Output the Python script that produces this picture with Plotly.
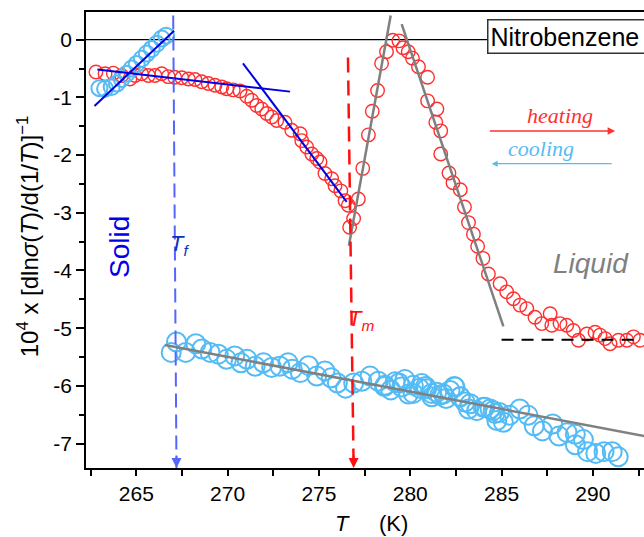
import plotly.graph_objects as go

# ---------------- data ----------------
heat_T = [262.79, 263.29, 263.74, 264.20, 264.65, 264.93, 265.29, 265.66, 266.02, 266.39,
          266.75, 267.10, 267.49, 267.85, 268.21, 268.58, 268.94, 269.31, 269.68, 269.95,
          270.31, 270.68, 271.05, 271.32, 271.59, 271.87, 272.14, 272.42, 272.69, 273.14,
          273.51, 273.97, 274.06, 274.33, 274.61, 274.88, 275.06, 275.33, 275.70, 275.88,
          276.20, 276.43, 276.61, 276.68, 276.90, 277.16, 277.40, 277.71, 277.92, 278.21,
          278.43, 278.70, 279.04, 279.38, 279.60, 279.89, 280.12, 280.45, 280.95, 280.95,
          281.46, 281.40, 281.67, 281.67, 282.12, 282.34, 282.74, 282.97, 283.19, 283.46,
          283.69, 283.98, 284.28, 284.92, 285.28, 285.65, 286.01, 286.38, 286.83, 287.20,
          287.66, 287.75, 288.20, 288.57, 288.93, 289.21, 289.67, 290.12, 290.39, 290.67,
          290.94, 291.40, 291.86, 292.22, 292.58]
heat_y = [-0.56, -0.59, -0.58, -0.62, -0.68, -0.62, -0.59, -0.62, -0.62, -0.59,
          -0.64, -0.65, -0.66, -0.68, -0.69, -0.73, -0.76, -0.79, -0.82, -0.85,
          -0.87, -0.89, -0.98, -1.05, -1.14, -1.20, -1.28, -1.34, -1.40, -1.43,
          -1.57, -1.63, -1.75, -1.86, -1.98, -2.06, -2.12, -2.32, -2.41, -2.53,
          -2.62, -2.79, -2.87, -3.25, -3.10, -2.76, -2.23, -1.65, -1.24, -0.88,
          -0.41, -0.21, -0.01, -0.02, -0.14, -0.21, -0.32, -0.47, -0.65, -1.06,
          -1.20, -1.43, -1.58, -1.98, -2.31, -2.48, -2.60, -2.90, -3.17, -3.37,
          -3.58, -3.79, -4.06, -4.23, -4.37, -4.49, -4.60, -4.66, -4.81, -4.92,
          -4.75, -4.95, -4.92, -4.95, -5.04, -5.21, -5.10, -5.07, -5.12, -5.18,
          -5.27, -5.21, -5.21, -5.15, -5.21]

cool_solid_T = [262.98, 263.29, 263.65, 263.93, 264.20, 264.47, 264.75, 265.02, 265.30,
                265.57, 265.84, 266.12, 266.39, 266.63]
cool_solid_y = [-0.84, -0.85, -0.82, -0.76, -0.68, -0.59, -0.50, -0.42, -0.33,
                -0.24, -0.16, -0.07, 0.02, 0.07]

cool_liq_T = [266.91, 267.20, 267.70, 268.26, 268.59, 269.04, 269.49, 269.94, 270.39, 270.73,
              271.06, 271.51, 271.96, 272.41, 272.86, 273.31, 273.54, 273.98, 274.43, 274.88,
              275.33, 275.67, 276.01, 276.46, 276.90, 277.35, 277.80, 278.25, 278.59, 278.93,
              279.38, 279.71, 280.16, 280.50, 280.84, 281.17, 281.62, 281.96, 282.41, 282.74,
              283.19, 283.64, 284.09, 284.54, 284.88, 285.10, 285.44, 286.00, 286.45, 286.79,
              287.24, 287.80, 288.14, 288.59, 289.04, 289.04, 289.48, 289.71, 290.16, 290.61,
              291.06, 291.39,
              278.62, 279.17, 279.53, 279.90, 280.17, 280.63, 280.90, 281.18, 281.45, 281.81,
              282.18, 282.45, 282.73, 283.00, 283.28, 284.00, 284.37, 284.64, 284.74]
cool_liq_y = [-5.42, -5.24, -5.42, -5.27, -5.36, -5.42, -5.45, -5.54, -5.48, -5.60,
              -5.54, -5.66, -5.60, -5.68, -5.66, -5.60, -5.71, -5.77, -5.65, -5.83,
              -5.74, -5.86, -5.95, -6.04, -5.95, -5.92, -5.83, -5.92, -6.01, -6.07,
              -5.95, -5.89, -6.13, -6.04, -6.01, -6.13, -6.16, -6.22, -6.01, -6.19,
              -6.40, -6.43, -6.37, -6.43, -6.46, -6.63, -6.51, -6.40, -6.51, -6.69,
              -6.78, -6.66, -6.87, -6.81, -6.84, -7.02, -6.93, -7.14, -7.17, -7.14,
              -7.14, -7.23,
              -5.99, -5.93, -6.02, -6.14, -5.99, -5.96, -6.05, -6.19, -6.11, -6.14,
              -6.08, -6.02, -6.19, -6.28, -6.31, -6.37, -6.40, -6.48, -6.60]

# fitted lines (end points, data units)
blue_fit1_T, blue_fit1_y = [262.71, 267.07], [-1.15, 0.154]
blue_fit2_T, blue_fit2_y = [262.87, 273.42], [-0.516, -0.90]
blue_fit3_T, blue_fit3_y = [270.84, 276.52], [-0.409, -2.81]
gray_fit1_T, gray_fit1_y = [276.64, 278.93], [-3.57, 0.42]
gray_fit2_T, gray_fit2_y = [279.53, 285.10], [0.27, -4.97]
gray_fit3_T, gray_fit3_y = [266.57, 292.81], [-5.29, -6.87]
liq_base_T, liq_base_y = [285.0, 292.3], [-5.2, -5.2]

# transition markers
Tf_T, Tf_y = [267.02, 267.20], [0.42, -7.423]
Tm_T, Tm_y = [276.59, 276.90], [-0.31, -7.423]

x_range = [262.245, 292.8]
y_range = [-7.423, 0.48]
x_ticks = [265, 270, 275, 280, 285, 290]
y_ticks = [0, -1, -2, -3, -4, -5, -6, -7]
y_ticktext = ["0", "-1", "-2", "-3", "-4", "-5", "-6", "-7"]

RED = "#FF3030"
CYAN = "#55BBF5"
BLUE = "#0000E6"
GRAY = "#808080"
FONT = "Liberation Sans, Arial, sans-serif"

fig = go.Figure()

def line(xs, ys, color, width, dash=None):
    fig.add_trace(go.Scatter(x=xs, y=ys, mode="lines",
                             line=dict(color=color, width=width, dash=dash),
                             hoverinfo="skip"))

# zero line
fig.add_shape(type="line", xref="paper", yref="y", x0=0, x1=1, y0=0, y1=0,
              line=dict(color="black", width=1.3), layer="below")

# data
fig.add_trace(go.Scatter(x=cool_liq_T, y=cool_liq_y, mode="markers",
                         marker=dict(symbol="circle-open", size=19, color=CYAN,
                                     line=dict(width=2))))
fig.add_trace(go.Scatter(x=heat_T, y=heat_y, mode="markers",
                         marker=dict(symbol="circle-open", size=13.5, color=RED,
                                     line=dict(width=1.4))))
fig.add_trace(go.Scatter(x=cool_solid_T, y=cool_solid_y, mode="markers",
                         marker=dict(symbol="circle-open", size=16, color=CYAN,
                                     line=dict(width=2))))

# fits
line(blue_fit1_T, blue_fit1_y, BLUE, 2)
line(blue_fit2_T, blue_fit2_y, BLUE, 2)
line(blue_fit3_T, blue_fit3_y, BLUE, 2)
line(gray_fit1_T, gray_fit1_y, GRAY, 2.5)
line(gray_fit2_T, gray_fit2_y, GRAY, 2.5)
line(gray_fit3_T, gray_fit3_y, GRAY, 2.5)
line(liq_base_T, liq_base_y, "black", 2, "12px,8px")

# dashed transition lines
line(Tf_T, Tf_y, "#5566FF", 2, "14px,7px")
line(Tm_T, Tm_y, "#FF1010", 2.5, "15px,8px")

ann = []
# arrow heads of the transition lines
ann.append(dict(x=Tf_T[1], y=Tf_y[1], ax=0, ay=-14, xref="x", yref="y", text="",
                showarrow=True, arrowhead=2, arrowsize=1, arrowwidth=2,
                arrowcolor="#5566FF", standoff=0))
ann.append(dict(x=Tm_T[1], y=Tm_y[1], ax=0, ay=-14, xref="x", yref="y", text="",
                showarrow=True, arrowhead=2, arrowsize=1, arrowwidth=2,
                arrowcolor="#FF1010", standoff=0))
# heating / cooling arrows
ann.append(dict(x=291.22, y=-1.584, ax=284.28, ay=-1.584, xref="x", yref="y",
                axref="x", ayref="y", text="", showarrow=True, arrowhead=2,
                arrowsize=1, arrowwidth=1.5, arrowcolor=RED, standoff=0))
ann.append(dict(x=284.46, y=-2.149, ax=291.11, ay=-2.149, xref="x", yref="y",
                axref="x", ayref="y", text="", showarrow=True, arrowhead=2,
                arrowsize=1, arrowwidth=1.2, arrowcolor=CYAN, standoff=0))

def label(x, y, text, size, color, family=FONT, angle=0, xref="x", yref="y"):
    ann.append(dict(x=x, y=y, xref=xref, yref=yref, text=text, textangle=angle,
                    xanchor="center", yanchor="middle", showarrow=False,
                    font=dict(family=family, size=size, color=color)))

label(288.2, -1.31, "<i>heating</i>", 22, RED, "Liberation Serif, serif")
label(287.16, -1.88, "<i>cooling</i>", 22, CYAN, "Liberation Serif, serif")
label(264.11, -3.59, "Solid", 28, BLUE, angle=-90)
label(289.9, -3.88, "<i>Liquid</i>", 28, GRAY)
label(267.35, -3.55, "<i>T<sub>f</sub></i>", 22, "#1030C0")
label(277.3, -4.85, "<i>T<sub>m</sub></i>", 22, "#FF1010")

# Nitrobenzene box
ann.append(dict(x=(486.7 - 86) / 558, y=(467.6 - 36) / 456, xref="paper", yref="paper",
                xanchor="left", yanchor="middle", text="Nitrobenzene\u00a0\u00a0",
                showarrow=False, align="left",
                bgcolor="white", bordercolor="#333333", borderwidth=1.5, borderpad=2,
                font=dict(family=FONT, size=25, color="black")))
# axis titles
label(-0.104, 0.508, "10<sup>4</sup> x [dln<i>σ</i>(<i>T</i>)/d(1/<i>T</i>)]<sup>−1</sup>",
      24, "black", angle=-90, xref="paper", yref="paper")
label(0.511, -0.122, "<i>T</i>\u00a0\u00a0\u00a0\u00a0\u00a0(K)", 22, "black",
      xref="paper", yref="paper")

fig.update_layout(
    width=644, height=537,
    margin=dict(l=86, r=0, t=12, b=69),
    plot_bgcolor="white", paper_bgcolor="white",
    showlegend=False,
    annotations=ann,
    font=dict(family=FONT, size=21, color="black"),
)
fig.update_xaxes(range=x_range, tickmode="array", tickvals=x_ticks,
                 ticks="outside", ticklen=6, tickwidth=1.5, tickcolor="black",
                 showline=True, linewidth=1.5, linecolor="black", mirror=True,
                 showgrid=False, zeroline=False, tickfont=dict(size=21),
                 minor=dict(dtick=2.5, tick0=262.5, ticks="outside", ticklen=6,
                            tickwidth=1.5, tickcolor="black", showgrid=False))
fig.update_yaxes(range=y_range, tickmode="array", tickvals=y_ticks, ticktext=y_ticktext,
                 ticks="outside", ticklen=8, tickwidth=1.5, tickcolor="black",
                 showline=True, linewidth=1.5, linecolor="black", mirror=False,
                 showgrid=False, zeroline=False, tickfont=dict(size=21),
                 minor=dict(dtick=0.5, tick0=0, ticks="outside", ticklen=5,
                            tickwidth=1.5, tickcolor="black", showgrid=False))

fig.write_html("out.html")
